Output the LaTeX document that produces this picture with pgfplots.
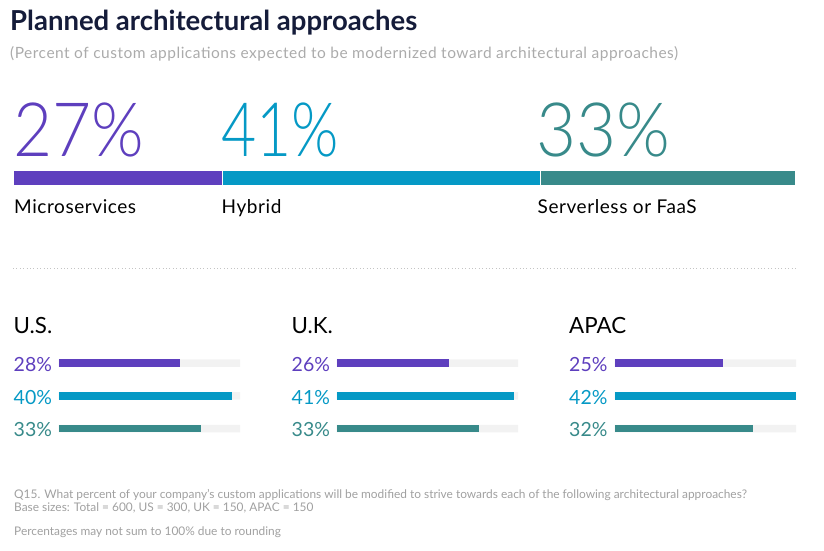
\documentclass[border=0pt]{standalone}
\usepackage{pgfplots}
\pgfplotsset{compat=1.18}
\usepackage{graphicx}
\usepackage{fontspec}
\setmainfont{Lato}
\newfontfamily\lightfont{Lato Light}
\definecolor{cpur}{HTML}{5E3FBE}
\definecolor{cblu}{HTML}{0599C5}
\definecolor{ctea}{HTML}{388A8A}
\definecolor{ctitle}{HTML}{151C3A}
\definecolor{csub}{HTML}{ABABAB}
\definecolor{ctrack}{HTML}{F2F2F2}
\definecolor{cnote}{HTML}{A0A0A0}
\definecolor{cdot}{HTML}{C4C4C4}
\pgfplotsset{
  panel/.style={anchor=south west, scale only axis, width=181.5pt, height=98.4pt,
    xmin=0, xmax=42, ymin=-0.5, ymax=2.5, y dir=reverse, hide axis, clip=false,
    xbar, bar width=7.5pt, bar shift=0pt},
}
\begin{document}
\begin{tikzpicture}
\path (0,0) rectangle (824pt,551pt);
% titles
\node[anchor=base west, inner sep=0, text=ctitle, font=\fontsize{27.5}{30}\selectfont\bfseries] at (10pt,520.3pt) {Planned architectural approaches};
\node[anchor=base west, inner sep=0, text=csub, font=\fontsize{15.5}{18}\selectfont\addfontfeature{LetterSpace=3.2}] at (10pt,492.7pt) {(Percent of custom applications expected to be modernized toward architectural approaches)};
% big stacked bar
\begin{axis}[at={(13.3pt,366pt)}, anchor=south west, scale only axis, width=782.4pt, height=14.3pt,
  xmin=0, xmax=101, ymin=-0.5, ymax=0.5, hide axis, clip=false, xbar stacked, bar width=14.3pt]
\addplot[fill=cpur, draw=white, line width=0.6pt] coordinates {(27,0)};
\addplot[fill=cblu, draw=white, line width=0.6pt] coordinates {(41,0)};
\addplot[fill=ctea, draw=white, line width=0.6pt] coordinates {(33,0)};
\end{axis}
\begin{scope}[font=\fontsize{75}{80}\selectfont\lightfont]
\node[anchor=base west, inner sep=0, text=cpur] at (13pt,394.3pt) {\scalebox{0.9}[1]{27\%}};
\node[anchor=base west, inner sep=0, text=cblu] at (221pt,394.3pt) {\scalebox{0.81}[1]{41\%}};
\node[anchor=base west, inner sep=0, text=ctea] at (536.5pt,394.3pt) {\scalebox{0.92}[1]{33\%}};
\end{scope}
\begin{scope}[font=\fontsize{19}{22}\selectfont\addfontfeature{LetterSpace=3}]
\node[anchor=base west, inner sep=0, text=black] at (14pt,337.7pt) {Microservices};
\node[anchor=base west, inner sep=0, text=black] at (221.5pt,337.7pt) {Hybrid};
\node[anchor=base west, inner sep=0, text=black] at (537.5pt,337.7pt) {Serverless or FaaS};
\end{scope}
% dotted separator
\draw[cdot, line width=0.9pt, dash pattern=on 0.9pt off 2.5pt] (13pt,282.7pt) -- (798pt,282.7pt);
% region panels
\begin{axis}[panel, at={(58.7pt,105.9pt)}]
\addplot[fill=ctrack, draw=none] coordinates {(42,0) (42,1) (42,2)};
\addplot[fill=cpur, draw=none] coordinates {(28,0)};
\addplot[fill=cblu, draw=none] coordinates {(40,1)};
\addplot[fill=ctea, draw=none] coordinates {(33,2)};
\end{axis}
\begin{axis}[panel, at={(336.7pt,105.9pt)}]
\addplot[fill=ctrack, draw=none] coordinates {(42,0) (42,1) (42,2)};
\addplot[fill=cpur, draw=none] coordinates {(26,0)};
\addplot[fill=cblu, draw=none] coordinates {(41,1)};
\addplot[fill=ctea, draw=none] coordinates {(33,2)};
\end{axis}
\begin{axis}[panel, at={(614.5pt,105.9pt)}]
\addplot[fill=ctrack, draw=none] coordinates {(42,0) (42,1) (42,2)};
\addplot[fill=cpur, draw=none] coordinates {(25,0)};
\addplot[fill=cblu, draw=none] coordinates {(42,1)};
\addplot[fill=ctea, draw=none] coordinates {(32,2)};
\end{axis}
\begin{scope}[font=\fontsize{22.3}{26}\selectfont]
\node[anchor=base west, inner sep=0, text=black] at (13.5pt,217.7pt) {U.S.};
\node[anchor=base west, inner sep=0, text=black] at (291.5pt,217.7pt) {U.K.};
\node[anchor=base west, inner sep=0, text=black] at (569pt,217.7pt) {APAC};
\end{scope}
\begin{scope}[font=\fontsize{19.5}{22}\selectfont]
\node[anchor=base west, inner sep=0, text=cpur] at (13.5pt,179.3pt) {28\%};
\node[anchor=base west, inner sep=0, text=cblu] at (13.5pt,146.7pt) {40\%};
\node[anchor=base west, inner sep=0, text=ctea] at (13.5pt,114.3pt) {33\%};
\node[anchor=base west, inner sep=0, text=cpur] at (291.5pt,179.3pt) {26\%};
\node[anchor=base west, inner sep=0, text=cblu] at (291.5pt,146.7pt) {41\%};
\node[anchor=base west, inner sep=0, text=ctea] at (291.5pt,114.3pt) {33\%};
\node[anchor=base west, inner sep=0, text=cpur] at (569pt,179.3pt) {25\%};
\node[anchor=base west, inner sep=0, text=cblu] at (569pt,146.7pt) {42\%};
\node[anchor=base west, inner sep=0, text=ctea] at (569pt,114.3pt) {32\%};
\end{scope}
% footnotes
\begin{scope}[font=\fontsize{11.9}{14}\selectfont, text=cnote]
\node[anchor=base west, inner sep=0] at (14pt,52.2pt) {Q15. What percent of your company's custom applications will be modified to strive towards each of the following architectural approaches?};
\node[anchor=base west, inner sep=0] at (14pt,39pt) {Base sizes: Total = 600, US = 300, UK = 150, APAC = 150};
\node[anchor=base west, inner sep=0] at (14pt,15.5pt) {Percentages may not sum to 100\% due to rounding};
\end{scope}
\end{tikzpicture}
\end{document}
